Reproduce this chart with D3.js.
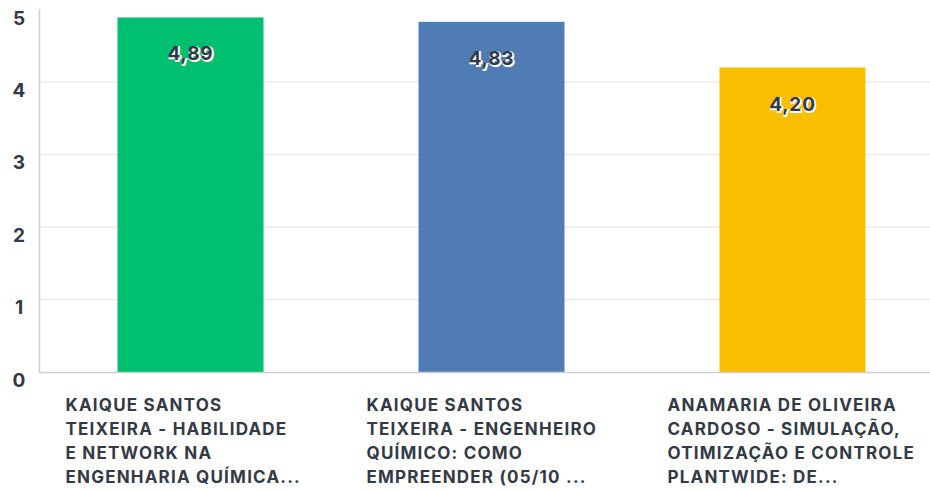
<!DOCTYPE html>
<html><head><meta charset="utf-8">
<script src="https://cdn.jsdelivr.net/npm/d3@7"></script>
<style>body{margin:0;background:#fff;}svg{display:block;font-family:Inter,"Open Sans",sans-serif;}</style>
</head><body>
<svg id="c" width="930" height="491"></svg>
<script>
const categories = [
  ["KAIQUE SANTOS","TEIXEIRA - HABILIDADE","E NETWORK NA","ENGENHARIA QUÍMICA..."],
  ["KAIQUE SANTOS","TEIXEIRA - ENGENHEIRO","QUÍMICO: COMO","EMPREENDER (05/10 ..."],
  ["ANAMARIA DE OLIVEIRA","CARDOSO - SIMULAÇÃO,","OTIMIZAÇÃO E CONTROLE","PLANTWIDE: DE..."]
];
const values = [4.89, 4.83, 4.20];
const valueLabels = ["4,89","4,83","4,20"];
const colors = ["#00BF6F","#507CB6","#F9BE00"];
const yTicks = [0,1,2,3,4,5];

const svg = d3.select("#c");
const x = d3.scaleBand().domain(d3.range(values.length)).range([40,943]).paddingInner(0.515).paddingOuter(0.2575);
const y = d3.scaleLinear().domain([0,5]).range([372,9.5]);

// gridlines
svg.append("g").selectAll("line").data(yTicks.filter(d=>d>0&&d<5)).join("line")
  .attr("x1",40).attr("x2",930).attr("y1",d=>y(d)).attr("y2",d=>y(d))
  .attr("stroke","#ebebeb").attr("stroke-width",1.5);

// bars
svg.append("g").selectAll("rect").data(values).join("rect")
  .attr("x",(d,i)=>x(i)).attr("width",x.bandwidth())
  .attr("y",d=>y(d)).attr("height",d=>y(0)-y(d))
  .attr("fill",(d,i)=>colors[i]);

// axes lines
svg.append("line").attr("x1",39.5).attr("x2",39.5).attr("y1",9).attr("y2",373).attr("stroke","#cfcfcf").attr("stroke-width",1.5);
svg.append("line").attr("x1",39).attr("x2",930).attr("y1",372.5).attr("y2",372.5).attr("stroke","#cfcfcf").attr("stroke-width",1.5);

// y tick labels
svg.append("g").selectAll("text").data(yTicks).join("text")
  .attr("x",19).attr("y",d=>y(d)+(d===5?15:14.5)).attr("text-anchor","middle")
  .attr("font-size",19).attr("font-weight",700).attr("fill","#333a45").text(d=>d);

// value labels
const vl = svg.append("g").selectAll("g").data(values).join("g");
vl.append("text").attr("x",(d,i)=>x(i)+x.bandwidth()/2+1).attr("y",d=>y(d)+44)
  .attr("text-anchor","middle").attr("font-size",19).attr("font-weight",700).attr("letter-spacing",0.8)
  .attr("fill","#fff").attr("stroke","#fff").attr("stroke-width",2).text((d,i)=>valueLabels[i]);
vl.append("text").attr("x",(d,i)=>x(i)+x.bandwidth()/2).attr("y",d=>y(d)+43)
  .attr("text-anchor","middle").attr("font-size",19).attr("font-weight",700).attr("letter-spacing",0.8)
  .attr("fill","#333a45").text((d,i)=>valueLabels[i]);

// category labels
const cl = svg.append("g").selectAll("text").data(categories).join("text")
  .attr("x",(d,i)=>x(i)+x.bandwidth()/2-125).attr("y",410.7)
  .attr("font-size",17).attr("font-weight",700).attr("letter-spacing",1.2).attr("fill","#333a45");
cl.selectAll("tspan").data(d=>d).join("tspan")
  .attr("x",function(){return this.parentNode.getAttribute("x");})
  .attr("dy",(d,j)=>j===0?0:24).text(d=>d);
</script>
</body></html>
